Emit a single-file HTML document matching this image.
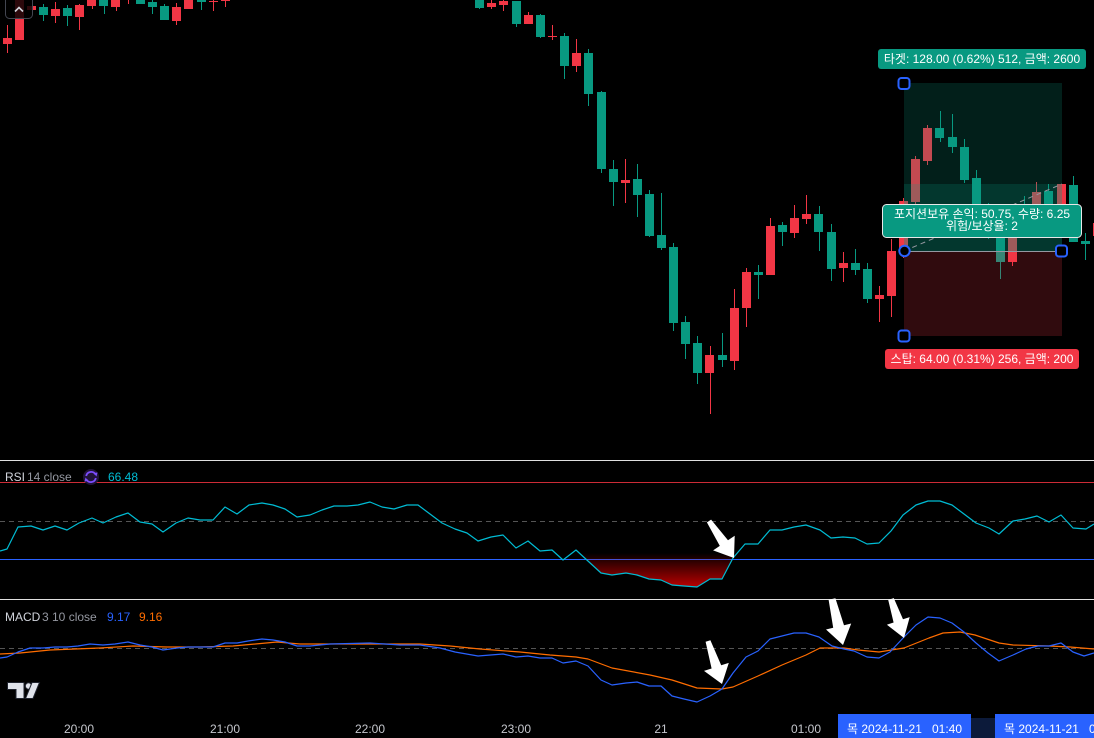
<!DOCTYPE html>
<html><head><meta charset="utf-8">
<style>
html,body{margin:0;padding:0;background:#000;}
svg{display:block;}
text{font-family:"Liberation Sans","Noto Sans CJK KR",sans-serif;font-size:12px;}
</style></head>
<body>
<svg width="1094" height="738" viewBox="0 0 1094 738" xmlns="http://www.w3.org/2000/svg">
<rect x="0" y="0" width="1094" height="738" fill="#000"/>

<!-- ===== Candles ===== -->
<g fill="#f23645">
<rect x="7" y="25" width="1" height="28"/><rect x="3" y="38" width="9" height="6"/>
<rect x="15" y="0" width="9" height="40"/>
<rect x="27" y="6" width="9" height="4"/>
<rect x="55" y="2" width="1" height="21"/><rect x="51" y="9" width="9" height="7"/>
<rect x="79" y="4" width="1" height="26"/><rect x="75" y="5" width="9" height="12"/>
<rect x="92" y="0" width="1" height="9"/><rect x="87" y="0" width="9" height="6"/>
<rect x="116" y="0" width="1" height="11"/><rect x="111" y="0" width="9" height="7"/>
<rect x="128" y="0" width="1" height="4"/>
<rect x="176" y="3" width="1" height="22"/><rect x="172" y="7" width="9" height="14"/>
<rect x="184" y="0" width="9" height="9"/>
<rect x="213" y="0" width="1" height="11"/><rect x="209" y="1" width="9" height="1"/>
<rect x="225" y="0" width="1" height="7"/><rect x="221" y="0" width="9" height="1"/>
<rect x="491" y="0" width="1" height="9"/><rect x="487" y="3" width="9" height="4"/>
<rect x="503" y="0" width="1" height="11"/><rect x="499" y="1" width="9" height="4"/>
<rect x="528" y="12" width="1" height="12"/><rect x="524" y="15" width="9" height="9"/>
<rect x="552" y="25" width="1" height="15"/><rect x="548" y="36" width="9" height="1"/>
<rect x="576" y="39" width="1" height="33"/><rect x="572" y="53" width="9" height="13"/>
<rect x="625" y="159" width="1" height="44"/><rect x="621" y="180" width="9" height="3"/>
<rect x="710" y="346" width="1" height="68"/><rect x="705" y="355" width="9" height="18"/>
<rect x="734" y="289" width="1" height="81"/><rect x="730" y="308" width="9" height="53"/>
<rect x="746" y="268" width="1" height="59"/><rect x="742" y="272" width="9" height="36"/>
<rect x="770" y="218" width="1" height="57"/><rect x="766" y="226" width="9" height="49"/>
<rect x="794" y="205" width="1" height="33"/><rect x="790" y="218" width="9" height="15"/>
<rect x="806" y="195" width="1" height="29"/><rect x="802" y="214" width="9" height="5"/>
<rect x="843" y="252" width="1" height="30"/><rect x="839" y="263" width="9" height="5"/>
<rect x="879" y="286" width="1" height="36"/><rect x="875" y="295" width="9" height="4"/>
<rect x="891" y="239" width="1" height="78"/><rect x="887" y="251" width="9" height="45"/>
<rect x="903" y="198" width="1" height="60"/><rect x="899" y="201" width="9" height="49"/>
<rect x="915" y="156" width="1" height="49"/><rect x="911" y="159" width="9" height="43"/>
<rect x="927" y="125" width="1" height="40"/><rect x="923" y="128" width="9" height="33"/>
<rect x="1012" y="230" width="1" height="36"/><rect x="1008" y="237" width="9" height="25"/>
<rect x="1036" y="182" width="1" height="40"/><rect x="1032" y="192" width="9" height="25"/>
<rect x="1061" y="184" width="1" height="40"/><rect x="1057" y="184" width="9" height="35"/>
<rect x="1097" y="215" width="1" height="30"/><rect x="1093" y="223" width="9" height="13"/>
</g>
<g fill="#089981">
<rect x="43" y="4" width="1" height="17"/><rect x="39" y="7" width="9" height="8"/>
<rect x="67" y="5" width="1" height="21"/><rect x="63" y="8" width="9" height="8"/>
<rect x="104" y="0" width="1" height="14"/><rect x="99" y="0" width="9" height="6"/>
<rect x="136" y="0" width="9" height="4"/>
<rect x="152" y="0" width="1" height="14"/><rect x="148" y="2" width="9" height="5"/>
<rect x="164" y="4" width="1" height="16"/><rect x="160" y="6" width="9" height="14"/>
<rect x="201" y="0" width="1" height="10"/><rect x="197" y="0" width="9" height="2"/>
<rect x="479" y="0" width="1" height="9"/><rect x="475" y="0" width="9" height="8"/>
<rect x="516" y="1" width="1" height="26"/><rect x="512" y="1" width="9" height="23"/>
<rect x="540" y="14" width="1" height="24"/><rect x="536" y="15" width="9" height="22"/>
<rect x="564" y="33" width="1" height="46"/><rect x="560" y="36" width="9" height="30"/>
<rect x="588" y="49" width="1" height="57"/><rect x="584" y="53" width="9" height="41"/>
<rect x="601" y="91" width="1" height="82"/><rect x="597" y="92" width="9" height="77"/>
<rect x="613" y="160" width="1" height="46"/><rect x="609" y="169" width="9" height="13"/>
<rect x="637" y="164" width="1" height="53"/><rect x="633" y="179" width="9" height="16"/>
<rect x="649" y="190" width="1" height="47"/><rect x="645" y="194" width="9" height="42"/>
<rect x="661" y="193" width="1" height="57"/><rect x="657" y="235" width="9" height="13"/>
<rect x="673" y="243" width="1" height="88"/><rect x="669" y="247" width="9" height="76"/>
<rect x="685" y="316" width="1" height="43"/><rect x="681" y="322" width="9" height="22"/>
<rect x="697" y="336" width="1" height="48"/><rect x="693" y="343" width="9" height="30"/>
<rect x="722" y="333" width="1" height="34"/><rect x="718" y="355" width="9" height="5"/>
<rect x="758" y="265" width="1" height="34"/><rect x="754" y="272" width="9" height="3"/>
<rect x="782" y="222" width="1" height="24"/><rect x="778" y="225" width="9" height="7"/>
<rect x="819" y="206" width="1" height="45"/><rect x="814" y="214" width="9" height="18"/>
<rect x="831" y="224" width="1" height="57"/><rect x="827" y="232" width="9" height="37"/>
<rect x="855" y="249" width="1" height="26"/><rect x="851" y="263" width="9" height="7"/>
<rect x="867" y="263" width="1" height="40"/><rect x="863" y="269" width="9" height="30"/>
<rect x="940" y="111" width="1" height="31"/><rect x="935" y="128" width="9" height="10"/>
<rect x="952" y="114" width="1" height="39"/><rect x="948" y="137" width="9" height="10"/>
<rect x="964" y="139" width="1" height="44"/><rect x="960" y="147" width="9" height="33"/>
<rect x="976" y="170" width="1" height="45"/><rect x="972" y="178" width="9" height="37"/>
<rect x="988" y="203" width="1" height="36"/><rect x="984" y="210" width="9" height="22"/>
<rect x="1000" y="230" width="1" height="49"/><rect x="996" y="237" width="9" height="25"/>
<rect x="1024" y="196" width="1" height="30"/><rect x="1020" y="205" width="9" height="20"/>
<rect x="1048" y="184" width="1" height="38"/><rect x="1044" y="191" width="9" height="25"/>
<rect x="1073" y="176" width="1" height="66"/><rect x="1069" y="185" width="9" height="57"/>
<rect x="1085" y="233" width="1" height="27"/><rect x="1081" y="241" width="9" height="3"/>
</g>

<!-- ===== Position tool ===== -->
<rect x="904" y="83" width="158" height="168" fill="rgba(8,153,129,0.2)"/>
<rect x="904" y="184" width="158" height="67" fill="rgba(8,153,129,0.2)"/>
<rect x="904" y="251" width="158" height="85" fill="rgba(242,54,69,0.2)"/>
<line x1="904" y1="251" x2="1062" y2="184" stroke="#9598a1" stroke-width="1" stroke-dasharray="5 4"/>
<line x1="904" y1="251.5" x2="1062" y2="251.5" stroke="#9598a1" stroke-width="1"/>

<!-- handles -->
<rect x="898.5" y="78" width="11" height="11" rx="3" fill="#000" stroke="#2962ff" stroke-width="2"/>
<rect x="898.5" y="330.5" width="11" height="11" rx="3" fill="#000" stroke="#2962ff" stroke-width="2"/>
<rect x="1056" y="245.5" width="11" height="11" rx="3" fill="#000" stroke="#2962ff" stroke-width="2"/>
<circle cx="904.5" cy="251" r="5.2" fill="#000" stroke="#2962ff" stroke-width="2"/>

<!-- labels -->
<rect x="878" y="49" width="208" height="20" rx="3" fill="#089981"/>
<text x="982" y="63" fill="#fff" text-anchor="middle">타겟: 128.00 (0.62%) 512, 금액: 2600</text>
<rect x="882.5" y="204.5" width="199" height="33" rx="4" fill="#089981" stroke="#e8e8e8" stroke-width="1"/>
<text x="982" y="218" fill="#fff" text-anchor="middle">포지션보유 손익: 50.75, 수량: 6.25</text>
<text x="982" y="230" fill="#fff" text-anchor="middle">위험/보상율: 2</text>
<rect x="885" y="349" width="194" height="20" rx="3" fill="#f23645"/>
<text x="982" y="363" fill="#fff" text-anchor="middle">스탑: 64.00 (0.31%) 256, 금액: 200</text>

<!-- top-left button -->
<rect x="5.5" y="-6" width="27" height="24.5" rx="4" fill="rgba(0,0,0,0.82)" stroke="#434651" stroke-width="1"/>
<polyline points="15,11.5 19,7.5 23,11.5" fill="none" stroke="#d1d4dc" stroke-width="1.6"/>

<!-- ===== Pane separators ===== -->
<rect x="0" y="460" width="1094" height="1" fill="#e0e0e0"/>
<rect x="0" y="599" width="1094" height="1" fill="#e0e0e0"/>

<!-- ===== RSI pane ===== -->
<rect x="0" y="482" width="1094" height="1" fill="#cc2b36"/>
<line x1="0" y1="521.5" x2="1094" y2="521.5" stroke="#555" stroke-width="1" stroke-dasharray="5 4"/>
<rect x="0" y="559" width="1094" height="1" fill="#2962ff"/>
<defs>
<linearGradient id="rg" x1="0" y1="553" x2="0" y2="588" gradientUnits="userSpaceOnUse">
<stop offset="0" stop-color="#d00000" stop-opacity="0"/>
<stop offset="1" stop-color="#d00000" stop-opacity="0.92"/>
</linearGradient>
</defs>
<polygon points="579,553 601,573 612,575 626,573 637,575 649,579 661,580 672,585 684,586 697,587 710,579 722,579 733,558 737,553" fill="url(#rg)"/>
<polyline fill="none" stroke="#00bcd4" stroke-width="1.2" stroke-linejoin="round" points="0,551 7,549 18,527 31,526 43,530 55,526 67,530 79,523 92,518 103,523 116,517 128,513 140,522 152,524 163,532 176,523 188,518 200,520 213,520 225,507 237,514 249,505 262,503 273,505 285,509 297,517 310,515 322,510 334,506 347,506 358,505 370,502 382,507 394,509 407,505 418,505 430,514 442,523 455,529 467,533 478,541 491,537 503,535 516,548 528,541 540,551 552,550 563,560 576,550 601,573 612,575 626,573 637,575 649,579 661,580 672,585 684,586 697,587 710,579 722,579 733,558 745,544 758,544 770,530 782,530 794,527 806,525 820,530 831,538 843,537 855,538 867,544 879,543 891,531 903,515 916,505 928,501 940,501 952,505 964,514 976,523 989,528 999,534 1013,521 1025,519 1037,516 1049,522 1061,515 1073,528 1086,529 1094,524"/>

<text x="5" y="481" fill="#d1d4dc">RSI</text>
<text x="27" y="481" fill="#9598a1">14 close</text>
<circle cx="91" cy="477" r="8" fill="#22143a"/>
<path d="M86.2 476 A5 5 0 0 1 95.5 474.5" fill="none" stroke="#7c4dff" stroke-width="1.8"/>
<path d="M95.8 478 A5 5 0 0 1 86.5 479.5" fill="none" stroke="#7c4dff" stroke-width="1.8"/>
<polygon points="93.5,473 97.5,472.5 96.5,476.5" fill="#7c4dff"/>
<polygon points="88.5,481 84.5,481.5 85.5,477.5" fill="#7c4dff"/>
<text x="108" y="481" fill="#00bcd4">66.48</text>

<!-- ===== MACD pane ===== -->
<line x1="0" y1="648.5" x2="1094" y2="648.5" stroke="#555" stroke-width="1" stroke-dasharray="5 4"/>
<polyline fill="none" stroke="#ff6d00" stroke-width="1.2" stroke-linejoin="round" points="0,654 20,653 50,650 100,648 133,646 167,647 200,647 233,646 277,642 300,644 333,644 420,644 450,646 480,649 520,652 550,655 576,657 588,659 612,668 650,675 672,680 697,688 722,689 733,687 758,676 782,665 806,655 820,648 844,648 858,650 879,652 904,648 929,638 943,633 960,632 975,635 999,643 1013,645 1049,646 1070,647 1094,649"/>
<polyline fill="none" stroke="#2962ff" stroke-width="1.2" stroke-linejoin="round" points="0,658 7,657 18,652 30,648 43,648 55,647 67,647 78,646 90,644 103,645 115,644 128,642 140,645 152,647 163,650 177,648 188,647 200,647 213,647 225,643 237,643 248,641 262,639 273,640 285,642 297,646 310,646 330,644 370,643 400,645 420,645 440,648 455,652 478,656 503,654 516,657 528,656 540,658 552,658 563,663 576,661 588,666 601,680 612,685 626,683 637,682 649,686 661,686 672,696 684,699 697,702 710,696 722,689 733,673 746,657 758,651 770,639 782,636 794,633 806,633 819,637 832,646 844,649 854,651 867,657 879,658 890,652 904,637 916,625 928,617 940,618 952,623 964,632 976,643 988,653 999,661 1013,655 1026,649 1038,646 1049,646 1061,643 1073,652 1084,656 1094,653"/>

<text x="5" y="621" fill="#d1d4dc">MACD</text>
<text x="42" y="621" fill="#9598a1">3 10 close</text>
<text x="107" y="621" fill="#2962ff">9.17</text>
<text x="139" y="621" fill="#ff6d00">9.16</text>

<!-- ===== Arrows ===== -->
<g fill="#fff">
<polygon points="711.1,519.6 728,540.3 734.7,535.8 734,558 713.1,550.4 719.8,545.9 706.9,522.4"/>
<polygon points="710.4,640.2 721.2,665.3 728.8,662.9 722,684 704,670.9 711.6,668.5 705.6,641.8"/>
<polygon points="835.4,598.2 844,625.2 851.2,623.5 843,645 826,629.5 833.2,627.8 828.6,599.8"/>
<polygon points="893.8,598.1 903,619.3 909.7,617.1 904,638 886.9,624.7 893.6,622.5 888.2,599.9"/>
</g>

<!-- TradingView logo -->
<g fill="#e0e3eb" stroke="#1e222d" stroke-width="1">
<path d="M7.5 682.5 H24 V698.5 H16 V689.5 H7.5 Z"/>
<circle cx="28.5" cy="686" r="3.2"/>
<path d="M32 682.5 H39.5 L33 698.5 H25.5 Z"/>
</g>

<!-- ===== Time axis ===== -->
<rect x="904" y="718" width="158" height="20" fill="#0c1a3a"/>
<g fill="#c4c6cc" text-anchor="middle">
<text x="79" y="733">20:00</text>
<text x="225" y="733">21:00</text>
<text x="370" y="733">22:00</text>
<text x="516" y="733">23:00</text>
<text x="661" y="733">21</text>
<text x="806" y="733">01:00</text>
</g>
<rect x="838" y="714" width="133" height="24" fill="#2962ff"/>
<text x="847" y="733" fill="#fff">목 2024-11-21</text>
<text x="932" y="733" fill="#fff">01:40</text>
<rect x="995" y="714" width="99" height="24" fill="#2962ff"/>
<text x="1004" y="733" fill="#fff">목 2024-11-21</text>
<text x="1089" y="733" fill="#fff">01:50</text>
</svg>
</body></html>
